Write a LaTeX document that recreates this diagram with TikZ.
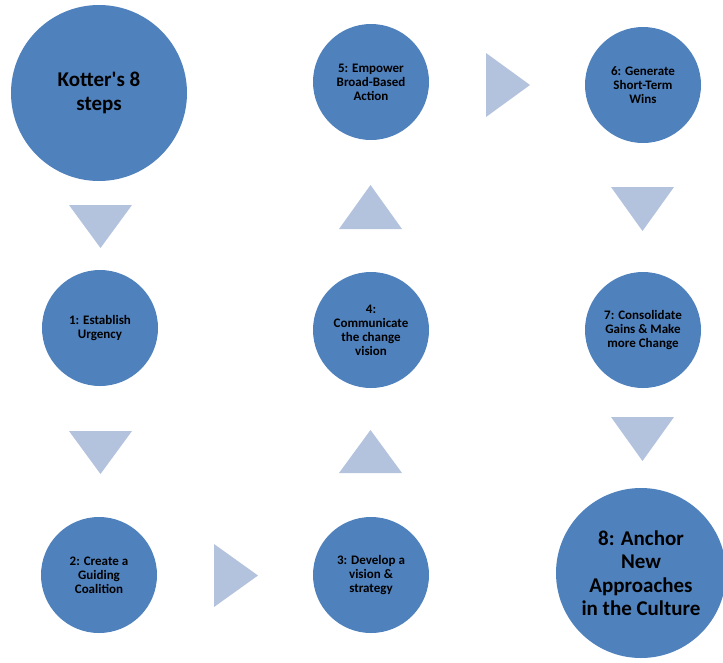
\documentclass[tikz,border=0pt]{standalone}
\usepackage{fontspec}
\setmainfont{Carlito}
\definecolor{cblue}{HTML}{4F81BD}
\definecolor{tri}{HTML}{B3C2DD}
\begin{document}
\begin{tikzpicture}[x=1pt,y=-1pt,
  stepcirc/.style={circle,fill=cblue,draw=none,inner sep=0pt,minimum size=116pt,align=center,font=\fontsize{13}{14}\selectfont\bfseries,text=black},
  bigcirc/.style={stepcirc,minimum size=#1,font=\fontsize{21}{23.5}\selectfont\bfseries},
  trifill/.style={fill=tri,draw=none}]
\useasboundingbox (0,0) rectangle (723,662);
\begin{scope}
\clip (0,0) rectangle (723,662);
\node[bigcirc=176pt] (k) at (99,93) {Kotter\textquotesingle s 8\\steps};
\node[stepcirc] (s1) at (100,328) {1: Establish\\Urgency};
\node[stepcirc] (s2) at (99,575) {2: Create a\\Guiding\\Coalition};
\node[stepcirc] (s3) at (371,575) {3: Develop a\\vision \&\\strategy};
\node[stepcirc] (s4) at (371,330) {4:\\Communicate\\the change\\vision};
\node[stepcirc] (s5) at (371,82) {5: Empower\\Broad-Based\\Action};
\node[stepcirc] (s6) at (643,85) {6: Generate\\Short-Term\\Wins};
\node[stepcirc] (s7) at (643,330) {7: Consolidate\\Gains \& Make\\more Change};
\node[bigcirc=170pt] (s8) at (641,573) {8: Anchor\\New\\Approaches\\in the Culture};
\end{scope}
% triangles
\fill[trifill] (69,205) -- (132,205) -- (100.5,248) -- cycle;
\fill[trifill] (69,431) -- (132,431) -- (100.5,474) -- cycle;
\fill[trifill] (214,544) -- (258,575.5) -- (214,607) -- cycle;
\fill[trifill] (339,473) -- (402,473) -- (370.5,430) -- cycle;
\fill[trifill] (339,229) -- (402,229) -- (370.5,185) -- cycle;
\fill[trifill] (486,53) -- (530,85) -- (486,117) -- cycle;
\fill[trifill] (611,187) -- (674,187) -- (642.5,231) -- cycle;
\fill[trifill] (611,417) -- (674,417) -- (642.5,461) -- cycle;
\end{tikzpicture}
\end{document}
